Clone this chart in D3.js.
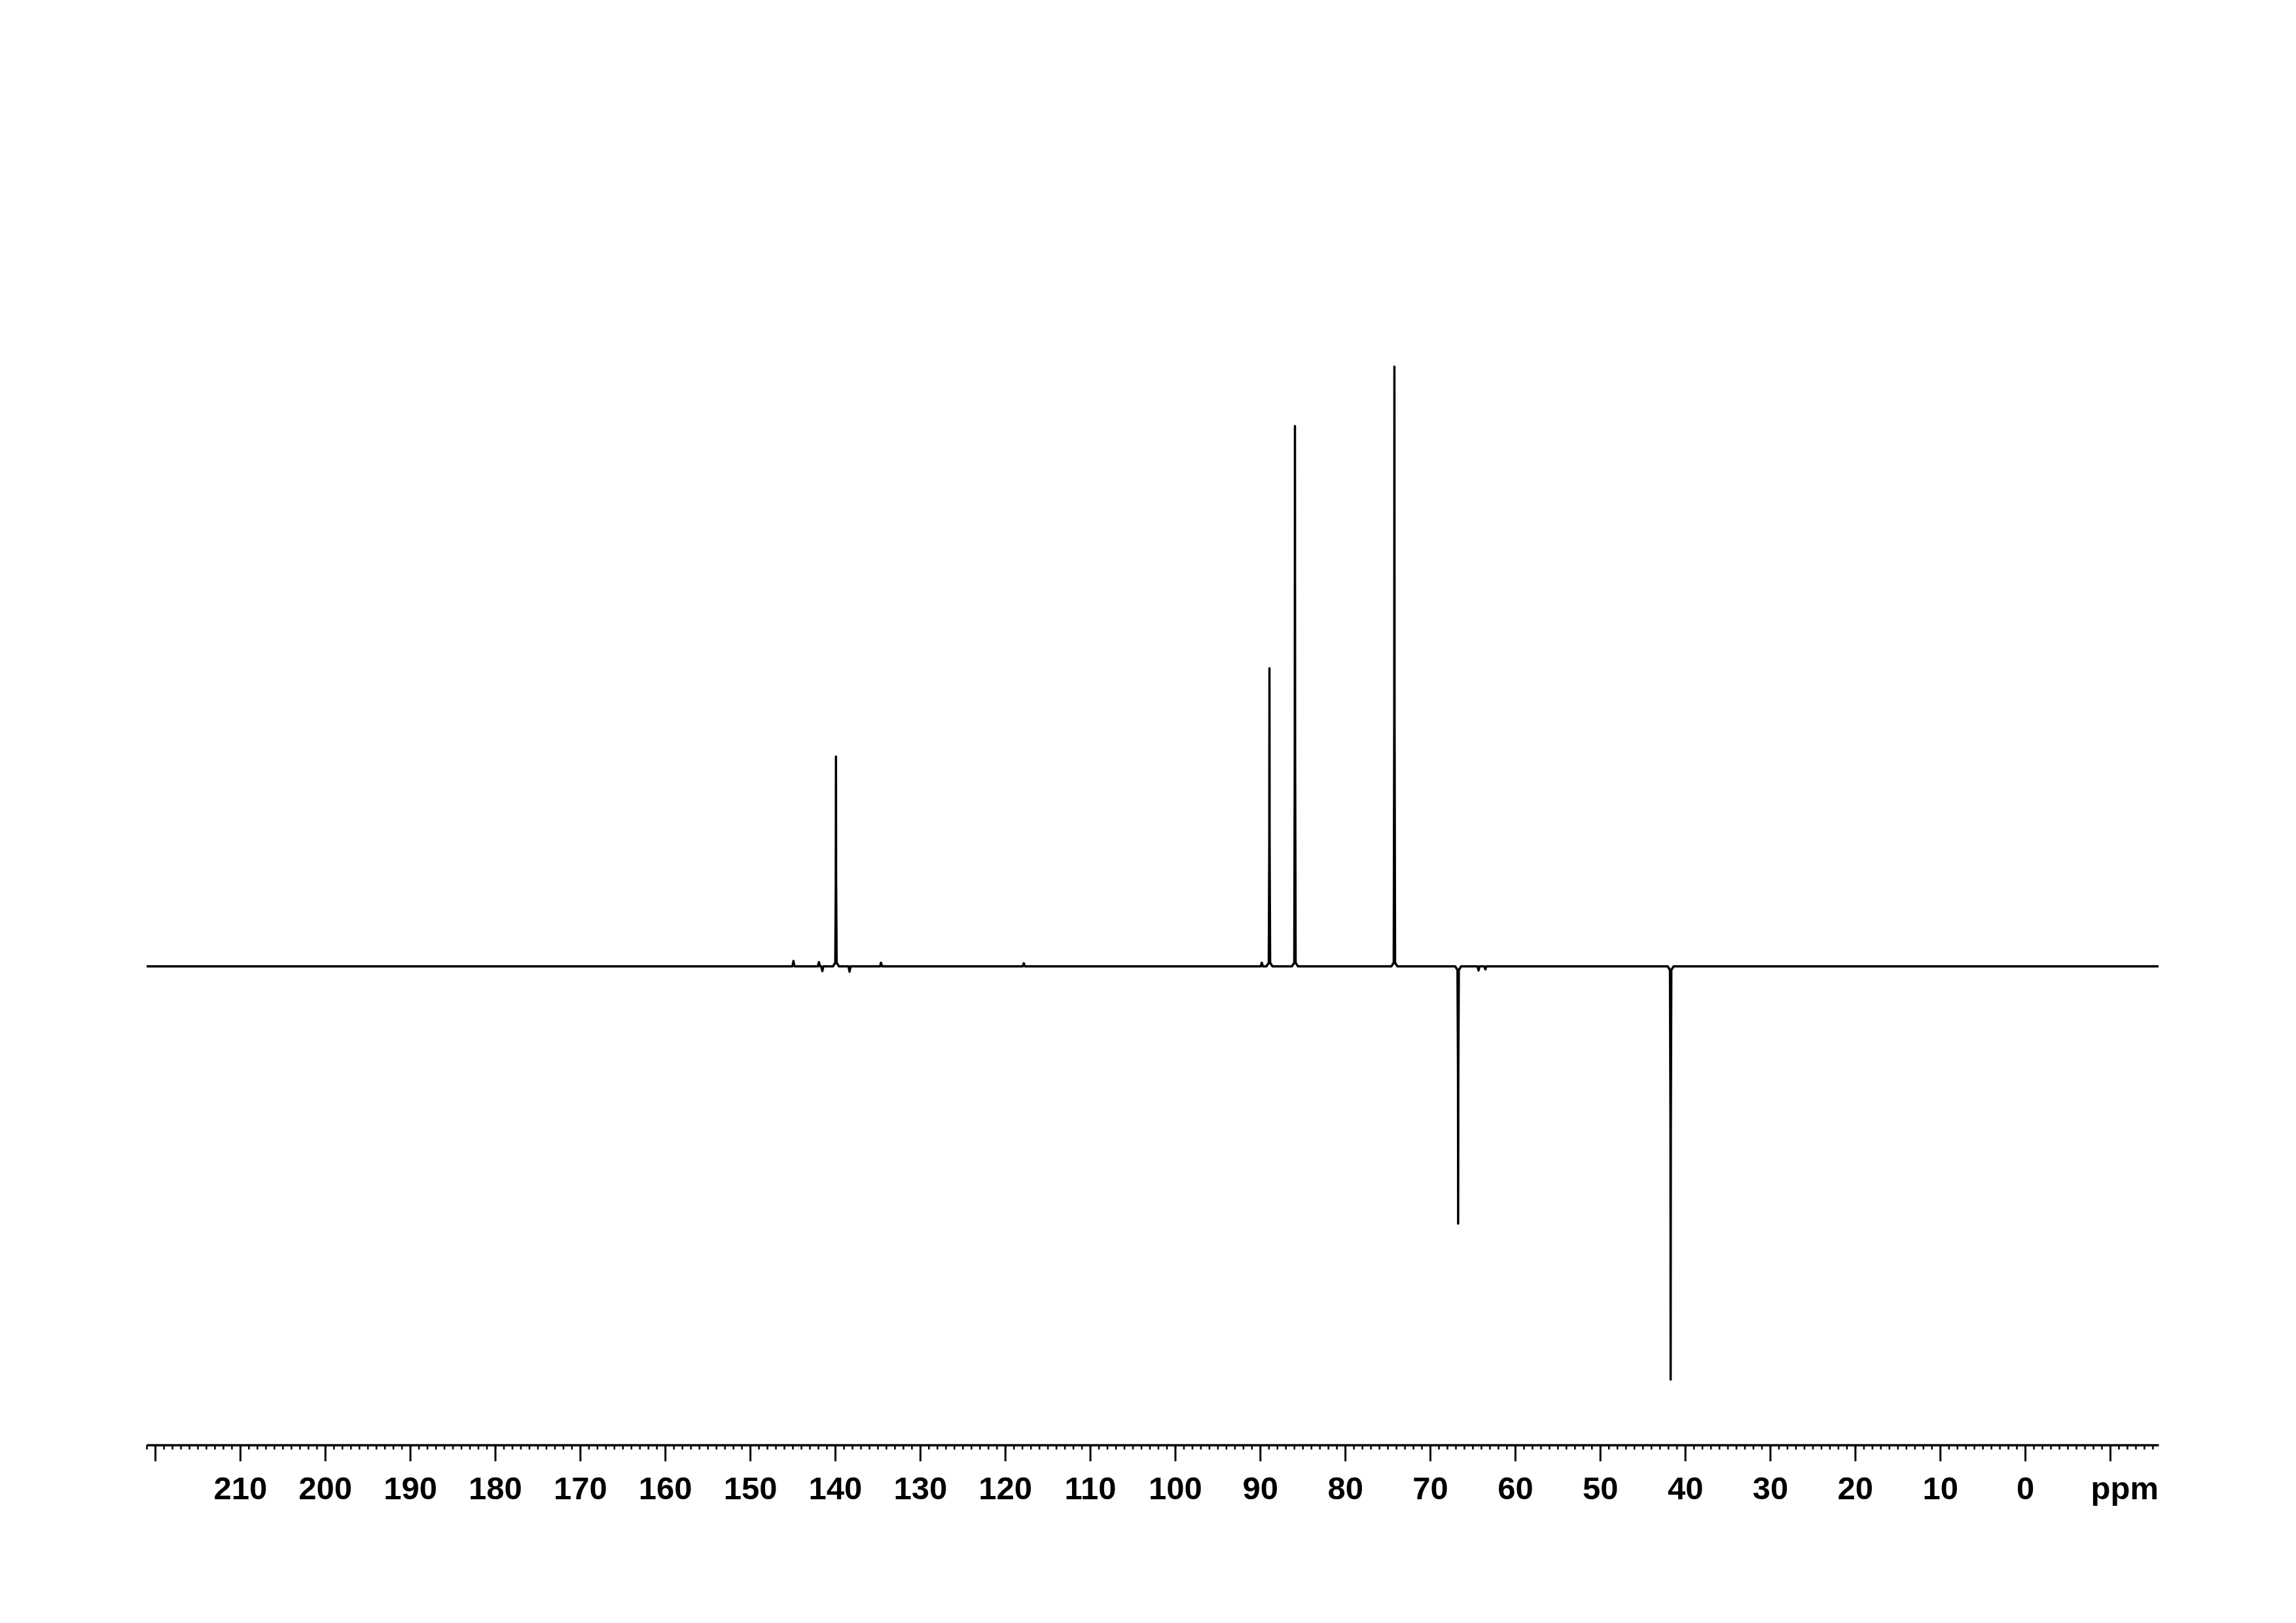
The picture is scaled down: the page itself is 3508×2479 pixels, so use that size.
<!DOCTYPE html>
<html>
<head>
<meta charset="utf-8">
<script src="https://cdn.jsdelivr.net/npm/d3@7"></script>
<style>
  html, body { margin: 0; padding: 0; background: #fff; }
  svg { display: block; }
</style>
</head>
<body>
<div id="chart"></div>
<script>
// peak list (ppm, intensity; tallest = 100)
const peakPpm = [139.9, 88.9, 85.9, 74.2, 66.7, 41.7];
const peakInt = [35.0, 49.7, 90.1, 100, -42.9, -68.9];

// small wiggles near the baseline
const smallPpm = [144.9, 141.9, 141.5, 138.3, 134.6, 117.8, 89.8, 64.3, 63.5];
const smallInt = [0.9, 0.7, -0.8, -0.9, 0.6, 0.5, 0.6, -0.7, -0.5];

// axis ticks
const majorTicks = [220, 210, 200, 190, 180, 170, 160, 150, 140, 130, 120, 110, 100, 90, 80, 70, 60, 50, 40, 30, 20, 10, 0, -10];
const tickLabels = [210, 200, 190, 180, 170, 160, 150, 140, 130, 120, 110, 100, 90, 80, 70, 60, 50, 40, 30, 20, 10, 0];
const minorTicks = d3.range(221, -16, -1);

window.onload = () => {
    let svg = d3.select('#chart').append('svg').attr('width', 3508).attr('height', 2479);

    let x = d3.scaleLinear().domain([221, -15.7]).range([224, 3298]);
    let y = d3.scaleLinear().domain([-100, 100]).range([2392, 560]);

    // build the trace: baseline points plus each peak's foot/apex
    let pts = [[221, 0], [-15.7, 0]];
    peakPpm.forEach((p, i) => {
        let h = peakInt[i];
        let s = h > 0 ? 0.6 : -0.6;
        pts.push([p + 0.35, 0], [p + 0.08, s], [p + 0.02, h * 0.4], [p, h], [p - 0.02, h * 0.4], [p - 0.08, s], [p - 0.35, 0]);
    });
    smallPpm.forEach((p, i) => {
        pts.push([p + 0.12, 0], [p, smallInt[i]], [p - 0.12, 0]);
    });
    pts.sort((a, b) => b[0] - a[0]);

    let line = d3.line().x(d => x(d[0])).y(d => y(d[1]));

    svg.append('path')
    .datum(pts)
    .attr('d', line)
    .attr('fill', 'none')
    .attr('stroke', '#000')
    .attr('stroke-width', 3.5)
    .attr('stroke-linejoin', 'round');

    //axis
    let axisY = 2207;

    let minor = d3.axisBottom(x).tickValues(minorTicks).tickSize(7).tickSizeOuter(0).tickFormat('');
    let gMinor = svg.append('g').attr('transform', 'translate(0,' + axisY + ')').call(minor);
    gMinor.select('.domain').remove();
    gMinor.selectAll('line').attr('stroke', '#000').attr('stroke-width', 2.5);

    let major = d3.axisBottom(x).tickValues(majorTicks).tickSize(25).tickSizeOuter(0)
        .tickFormat(d => tickLabels.indexOf(d) >= 0 ? d : '');
    let gMajor = svg.append('g').attr('transform', 'translate(0,' + axisY + ')').call(major);
    gMajor.select('.domain').attr('stroke', '#000').attr('stroke-width', 3.5);
    gMajor.selectAll('line').attr('stroke', '#000').attr('stroke-width', 3);
    gMajor.selectAll('text')
    .attr('y', 83)
    .attr('dy', 0)
    .attr('fill', '#000')
    .attr('font-family', '"Liberation Sans", Arial, sans-serif')
    .attr('font-weight', 'bold')
    .attr('font-size', '49px');

    svg.append('text')
    .attr('x', x.range()[1])
    .attr('y', axisY + 83)
    .attr('text-anchor', 'end')
    .attr('fill', '#000')
    .attr('font-family', '"Liberation Sans", Arial, sans-serif')
    .attr('font-weight', 'bold')
    .attr('font-size', '49px')
    .text('ppm');
};
</script>
</body>
</html>
